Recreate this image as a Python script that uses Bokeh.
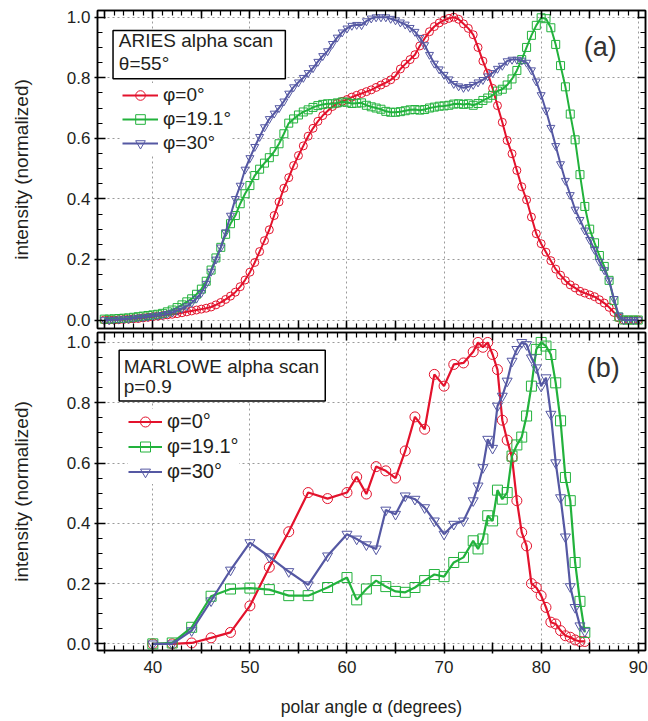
from bokeh.plotting import figure
from bokeh.models import (LinearAxis, Range1d, FixedTicker, Grid, Legend, LegendItem,
                          Label, BoxAnnotation, PrintfTickFormatter, CustomJSTickFormatter)
from bokeh.layouts import column
from bokeh.embed import file_html
from bokeh.resources import INLINE

# ---------------- data ----------------
# (a) ARIES alpha scan, theta = 55 deg : polar angle grid (degrees)
aries_angle = [35.0, 35.5, 36.0, 36.5, 37.0, 37.5, 38.0, 38.5, 39.0, 39.5,
               40.0, 40.5, 41.0, 41.5, 42.0, 42.5, 43.0, 43.5, 44.0, 44.5,
               45.0, 45.5, 46.0, 46.5, 47.0, 47.5, 48.0, 48.5, 49.0, 49.5,
               50.0, 50.5, 51.0, 51.5, 52.0, 52.5, 53.0, 53.5, 54.0, 54.5,
               55.0, 55.5, 56.0, 56.5, 57.0, 57.5, 58.0, 58.5, 59.0, 59.5,
               60.0, 60.5, 61.0, 61.5, 62.0, 62.5, 63.0, 63.5, 64.0, 64.5,
               65.0, 65.5, 66.0, 66.5, 67.0, 67.5, 68.0, 68.5, 69.0, 69.5,
               70.0, 70.5, 71.0, 71.5, 72.0, 72.5, 73.0, 73.5, 74.0, 74.5,
               75.0, 75.5, 76.0, 76.5, 77.0, 77.5, 78.0, 78.5, 79.0, 79.5,
               80.0, 80.5, 81.0, 81.5, 82.0, 82.5, 83.0, 83.5, 84.0, 84.5,
               85.0, 85.5, 86.0, 86.5, 87.0, 87.5, 88.0, 88.5, 89.0, 89.5,
               90.0]
aries_phi0 = [0.0, 0.0, 0.0, 0.001, 0.002, 0.003, 0.004, 0.005, 0.007, 0.009,
              0.011, 0.013, 0.015, 0.017, 0.019, 0.021, 0.024, 0.027, 0.030, 0.033,
              0.036, 0.039, 0.043, 0.050, 0.058, 0.068, 0.079, 0.092, 0.110, 0.132,
              0.158, 0.190, 0.226, 0.262, 0.298, 0.345, 0.390, 0.435, 0.470, 0.510,
              0.543, 0.575, 0.607, 0.633, 0.656, 0.675, 0.690, 0.705, 0.715, 0.722,
              0.728, 0.736, 0.742, 0.748, 0.754, 0.760, 0.768, 0.776, 0.784, 0.793,
              0.806, 0.829, 0.845, 0.860, 0.876, 0.905, 0.930, 0.952, 0.969, 0.981,
              0.990, 0.996, 1.000, 0.993, 0.978, 0.963, 0.942, 0.900, 0.855, 0.815,
              0.765, 0.708, 0.653, 0.593, 0.549, 0.494, 0.440, 0.397, 0.340, 0.285,
              0.252, 0.224, 0.196, 0.168, 0.148, 0.130, 0.116, 0.106, 0.095, 0.089,
              0.083, 0.077, 0.067, 0.056, 0.042, 0.025, 0.007, 0.0, 0.0, 0.0,
              0.0]
aries_phi19 = [0.003, 0.003, 0.004, 0.005, 0.006, 0.007, 0.009, 0.011, 0.013, 0.015,
               0.017, 0.019, 0.022, 0.027, 0.033, 0.041, 0.050, 0.060, 0.070, 0.085,
               0.102, 0.128, 0.165, 0.205, 0.240, 0.283, 0.318, 0.345, 0.384, 0.417,
               0.444, 0.477, 0.498, 0.518, 0.536, 0.556, 0.582, 0.615, 0.650, 0.664,
               0.677, 0.687, 0.694, 0.702, 0.708, 0.712, 0.714, 0.714, 0.717, 0.720,
               0.719, 0.715, 0.716, 0.717, 0.709, 0.704, 0.700, 0.696, 0.689, 0.686,
               0.686, 0.688, 0.691, 0.694, 0.695, 0.693, 0.695, 0.700, 0.703, 0.706,
               0.707, 0.709, 0.713, 0.714, 0.712, 0.714, 0.709, 0.715, 0.725, 0.733,
               0.742, 0.756, 0.762, 0.776, 0.796, 0.824, 0.860, 0.900, 0.940, 0.973,
               0.998, 0.995, 0.965, 0.910, 0.840, 0.770, 0.680, 0.595, 0.480, 0.375,
               0.300, 0.255, 0.213, 0.177, 0.131, 0.064, 0.010, 0.0, 0.0, 0.0,
               0.0]
aries_phi30 = [0.0, 0.0, 0.001, 0.002, 0.003, 0.004, 0.006, 0.008, 0.009, 0.011,
               0.013, 0.015, 0.017, 0.021, 0.025, 0.031, 0.038, 0.046, 0.057, 0.071,
               0.090, 0.120, 0.160, 0.200, 0.240, 0.290, 0.345, 0.400, 0.444, 0.497,
               0.535, 0.572, 0.605, 0.637, 0.664, 0.682, 0.700, 0.722, 0.748, 0.769,
               0.785, 0.800, 0.816, 0.832, 0.853, 0.872, 0.888, 0.912, 0.933, 0.950,
               0.963, 0.972, 0.975, 0.974, 0.987, 0.996, 1.000, 1.000, 1.000, 0.995,
               0.990, 0.983, 0.976, 0.965, 0.952, 0.932, 0.908, 0.876, 0.847, 0.828,
               0.810, 0.795, 0.780, 0.772, 0.767, 0.770, 0.777, 0.785, 0.793, 0.805,
               0.816, 0.830, 0.840, 0.855, 0.860, 0.860, 0.857, 0.850, 0.825, 0.788,
               0.743, 0.692, 0.635, 0.575, 0.515, 0.460, 0.413, 0.365, 0.331, 0.296,
               0.265, 0.232, 0.193, 0.165, 0.131, 0.070, 0.015, 0.0, 0.0, 0.0,
               0.0]

# (b) MARLOWE alpha scan, p = 0.9
marlowe_angle = [40, 42, 44, 46, 48, 50, 52, 54, 56, 58, 60,
                 61, 62, 63, 64, 65, 66, 67, 68, 69, 70, 71, 72, 73,
                 73.5, 74, 74.5, 75, 75.5, 76, 76.5, 77, 77.5, 78, 78.5, 79,
                 79.5, 80, 80.5, 81, 81.5, 82, 82.5, 83, 83.5, 84, 84.5]
marlowe_phi0 = [0.0, 0.0, 0.003, 0.020, 0.038, 0.126, 0.254, 0.372, 0.502, 0.482, 0.502,
                0.554, 0.497, 0.588, 0.574, 0.550, 0.640, 0.753, 0.712, 0.894, 0.855, 0.927, 0.932, 0.969,
                1.000, 0.984, 1.000, 0.960, 0.910, 0.742, 0.676, 0.618, 0.475, 0.370, 0.325, 0.200,
                0.187, 0.160, 0.121, 0.072, 0.066, 0.044, 0.027, 0.022, 0.013, 0.008, 0.008]
marlowe_phi19 = [0.0, 0.003, 0.055, 0.158, 0.182, 0.185, 0.180, 0.160, 0.160, 0.187, 0.220,
                 0.146, 0.182, 0.210, 0.190, 0.174, 0.171, 0.187, 0.210, 0.230, 0.223, 0.270, 0.287, 0.342,
                 0.315, 0.348, 0.425, 0.408, 0.510, 0.480, 0.502, 0.623, 0.660, 0.686, 0.756, 0.855,
                 0.977, 1.000, 0.988, 0.960, 0.866, 0.740, 0.552, 0.475, 0.270, 0.141, 0.038]
marlowe_phi30 = [0.0, 0.0, 0.044, 0.143, 0.245, 0.336, 0.289, 0.240, 0.196, 0.292, 0.364,
                 0.348, 0.329, 0.315, 0.444, 0.430, 0.491, 0.480, 0.452, 0.408, 0.364, 0.397, 0.408, 0.475,
                 0.524, 0.585, 0.679, 0.649, 0.789, 0.822, 0.872, 0.938, 0.977, 1.000, 0.993, 0.949,
                 0.916, 0.855, 0.883, 0.762, 0.601, 0.485, 0.355, 0.190, 0.121, 0.060, 0.042]

series_labels = ["φ=0°", "φ=19.1°", "φ=30°"]
x_major_ticks = [35, 40, 45, 50, 55, 60, 65, 70, 75, 80, 85, 90]
x_label_ticks = [40, 50, 60, 70, 80, 90]
y_major_ticks = [0.0, 0.2, 0.4, 0.6, 0.8, 1.0]

# ---------------- style ----------------
FONT = "Liberation Sans"
TXT = "#231f20"
RED = "#e3122c"
GREEN = "#22b23c"
BLUE = "#5558a3"
COLORS = [RED, GREEN, BLUE]
MARKERS = ["circle", "square", "inverted_triangle"]

x_minor = [v for v in range(34, 92)]
y_minor = [round(i * 0.05, 2) for i in range(-1, 22)]
x_ticker = FixedTicker(ticks=x_major_ticks, minor_ticks=x_minor)
y_ticker = FixedTicker(ticks=y_major_ticks, minor_ticks=y_minor)
x_overrides = {t: ("" if t not in x_label_ticks else str(t)) for t in x_major_ticks}


def style_axis(ax, labels):
    ax.axis_line_color = "black"
    ax.axis_line_width = 1.5
    ax.major_tick_line_color = "black"
    ax.major_tick_line_width = 1.5
    ax.minor_tick_line_color = "black"
    ax.minor_tick_line_width = 1.2
    ax.major_tick_in = 8
    ax.minor_tick_in = 5
    ax.minor_tick_out = 0
    if labels:
        ax.major_tick_out = 3
        ax.major_label_text_font = FONT
        ax.major_label_text_font_size = "17px"
        ax.major_label_text_color = TXT
    else:
        ax.major_tick_out = 0
        ax.formatter = CustomJSTickFormatter(code="return '';")
        ax.major_label_text_font_size = "1px"
        ax.major_label_standoff = 0


def make_panel(height, ymin, ymax, top_border, bottom_border, show_x):
    p = figure(width=648, height=height, output_backend="svg", toolbar_location=None,
               x_axis_type=None, y_axis_type=None,
               x_range=Range1d(34.3, 90.75), y_range=Range1d(ymin, ymax),
               min_border_left=97, min_border_right=3,
               min_border_top=top_border, min_border_bottom=bottom_border)
    p.outline_line_color = "black"
    p.outline_line_width = 1.5
    p.background_fill_color = "white"
    p.border_fill_color = "white"

    left = LinearAxis(ticker=y_ticker, formatter=PrintfTickFormatter(format="%.1f"),
                      axis_label="intensity (normalized)")
    style_axis(left, True)
    left.major_label_standoff = 4
    left.axis_label_text_font = FONT
    left.axis_label_text_font_size = "19px"
    left.axis_label_text_font_style = "normal"
    left.axis_label_text_color = TXT
    left.axis_label_standoff = 32
    p.add_layout(left, "left")

    right = LinearAxis(ticker=y_ticker)
    style_axis(right, False)
    p.add_layout(right, "right")

    top = LinearAxis(ticker=x_ticker)
    style_axis(top, False)
    p.add_layout(top, "above")

    if show_x:
        bottom = LinearAxis(ticker=x_ticker, major_label_overrides=x_overrides,
                            axis_label="polar angle α (degrees)")
        style_axis(bottom, True)
        bottom.major_label_standoff = 7
        bottom.axis_label_text_font = FONT
        bottom.axis_label_text_font_size = "17.5px"
        bottom.axis_label_text_font_style = "normal"
        bottom.axis_label_text_color = TXT
        bottom.axis_label_standoff = 21
    else:
        bottom = LinearAxis(ticker=x_ticker)
        style_axis(bottom, False)
    p.add_layout(bottom, "below")

    grid_style = dict(grid_line_color="#9a9a9a", grid_line_width=1, grid_line_dash="2 3")
    p.add_layout(Grid(dimension=0, ticker=FixedTicker(ticks=x_label_ticks), **grid_style))
    p.add_layout(Grid(dimension=1, ticker=FixedTicker(ticks=y_major_ticks), **grid_style))
    return p


def add_series(p, xs, ys_list, msize, lw):
    items = []
    for ys, col, mk, lab in zip(ys_list, COLORS, MARKERS, series_labels):
        r_line = p.line(xs, ys, line_color=col, line_width=lw)
        r_pts = p.scatter(xs, ys, marker=mk, size=msize, line_color=col, line_width=1,
                          fill_color=None)
        items.append(LegendItem(label=lab, renderers=[r_line, r_pts]))
    return items


def add_legend(p, items, loc, row_h, glyph_w, fsize):
    leg = Legend(items=items, location=loc, orientation="vertical",
                 label_text_font=FONT, label_text_font_size=fsize, label_text_color=TXT,
                 glyph_width=glyph_w, glyph_height=row_h, label_height=row_h,
                 label_standoff=5, spacing=0, padding=0, margin=0,
                 border_line_color=None, background_fill_color="white",
                 background_fill_alpha=1.0)
    p.add_layout(leg, "center")


def add_box(p, left, right, top, bottom, line1, line2, tx, ty1, ty2, tag, tagx, tagy):
    p.add_layout(BoxAnnotation(left=left, right=right, top=top, bottom=bottom,
                               fill_color="white", fill_alpha=1.0,
                               line_color="black", line_alpha=1.0, line_width=1.5))
    for t, yy in ((line1, ty1), (line2, ty2)):
        p.add_layout(Label(x=tx, y=yy, text=t, text_font=FONT, text_font_size="19px",
                           text_color=TXT, text_baseline="middle", text_align="left"))
    p.add_layout(Label(x=tagx, y=tagy, text=tag, text_font=FONT, text_font_size="27px",
                       text_color="#333333", text_baseline="middle", text_align="center"))


# ---------------- panel (a) ----------------
p1 = make_panel(330, -0.028, 1.022, 10, 2, False)
items1 = add_series(p1, aries_angle, [aries_phi0, aries_phi19, aries_phi30], 8, 2)
add_legend(p1, items1, (25, 173), 24, 36, "19px")
add_box(p1, 35.9, 53.65, 0.956, 0.797, "ARIES alpha scan", "θ=55°",
        36.5, 0.923, 0.846, "(a)", 86.1, 0.903)

# ---------------- panel (b) ----------------
p2 = make_panel(391, -0.022, 1.033, 2, 71, True)
items2 = add_series(p2, marlowe_angle, [marlowe_phi0, marlowe_phi19, marlowe_phi30], 10, 2.2)
add_legend(p2, items2, (31, 166), 25, 34, "20px")
add_box(p2, 36.53, 57.76, 0.9745, 0.806, "MARLOWE alpha scan", "p=0.9",
        37.0, 0.9215, 0.855, "(b)", 86.4, 0.915)

layout = column(p1, p2, spacing=0)
open("out.html", "w").write(file_html(layout, INLINE))
